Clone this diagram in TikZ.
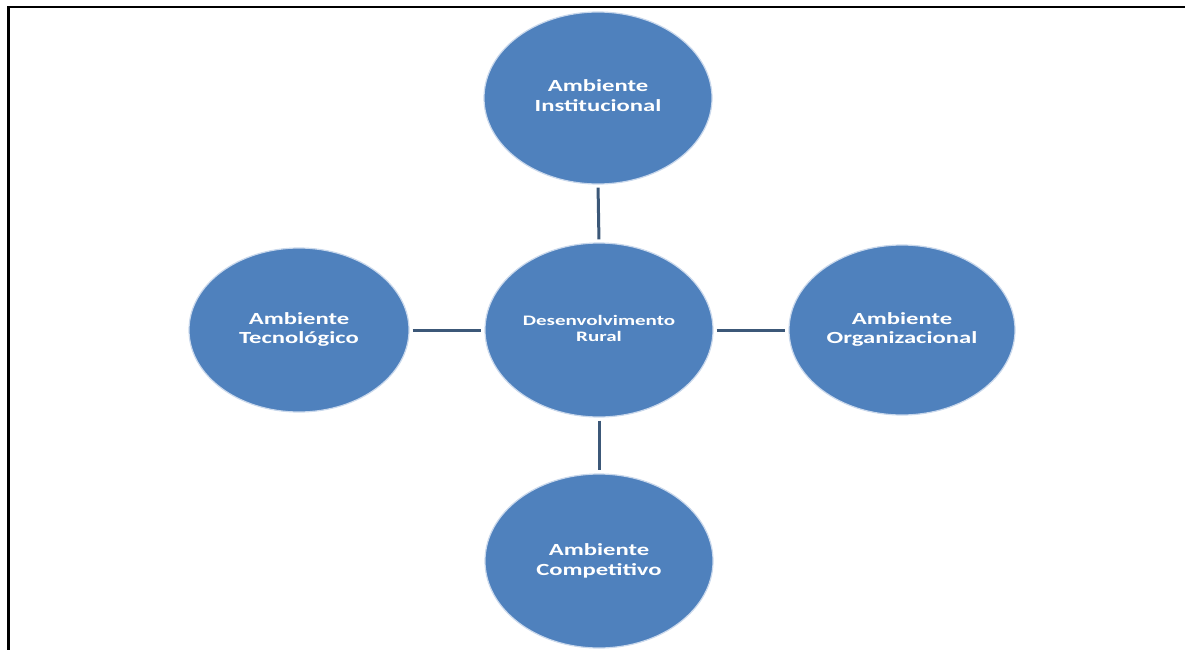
\documentclass[tikz,border=0pt]{standalone}
\usepackage{fontspec}
\usepackage{graphicx}
\setmainfont{Carlito}
\usetikzlibrary{shapes.geometric}
\definecolor{bubble}{HTML}{4F81BD}
\definecolor{halo}{HTML}{C9D8EC}
\definecolor{link}{HTML}{3C5878}
\newcommand{\twolines}[4]{\scalebox{1.45}[1]{\fontsize{#3}{#4}\selectfont\bfseries\begin{tabular}{@{}c@{}}#1\\#2\end{tabular}}}
\tikzset{
  bubble/.style={ellipse, fill=bubble, draw=halo, line width=1.2pt, inner sep=0pt, text=white},
  link/.style={draw=link, line width=3pt, shorten <=3pt, shorten >=3pt},
  frame/.style={draw=black, line width=2.6pt}
}
\begin{document}
\begin{tikzpicture}[x=1pt,y=-1pt]
\useasboundingbox (0,0) rectangle (1185,650);
\fill[white] (0,0) rectangle (1185,650);
\coordinate (fa) at (8.5,650);
\coordinate (fb) at (8.5,7);
\coordinate (fc) at (1185,7);
\draw[frame] (fa) -- (fb) -- (fc);

\node[bubble, minimum width=228pt, minimum height=172pt] (inst) at (598,98) {\twolines{Ambiente}{Institucional}{17pt}{20pt}};
\node[bubble, minimum width=228pt, minimum height=174pt] (rural) at (599,330) {\twolines{Desenvolvimento}{Rural}{14.5pt}{16.5pt}};
\node[bubble, minimum width=220pt, minimum height=164pt] (tec) at (299,330) {\twolines{Ambiente}{Tecnológico}{17pt}{19pt}};
\node[bubble, minimum width=226pt, minimum height=170pt] (org) at (902,330) {\twolines{Ambiente}{Organizacional}{17pt}{19pt}};
\node[bubble, minimum width=228pt, minimum height=174pt] (comp) at (599,561) {\twolines{Ambiente}{Competitivo}{17pt}{20pt}};

\draw[link] (inst.south) -- (rural.north);
\draw[link] (rural.south) -- (comp.north);
\draw[link] (tec.east) -- (rural.west);
\draw[link] (rural.east) -- (org.west);
\end{tikzpicture}
\end{document}
